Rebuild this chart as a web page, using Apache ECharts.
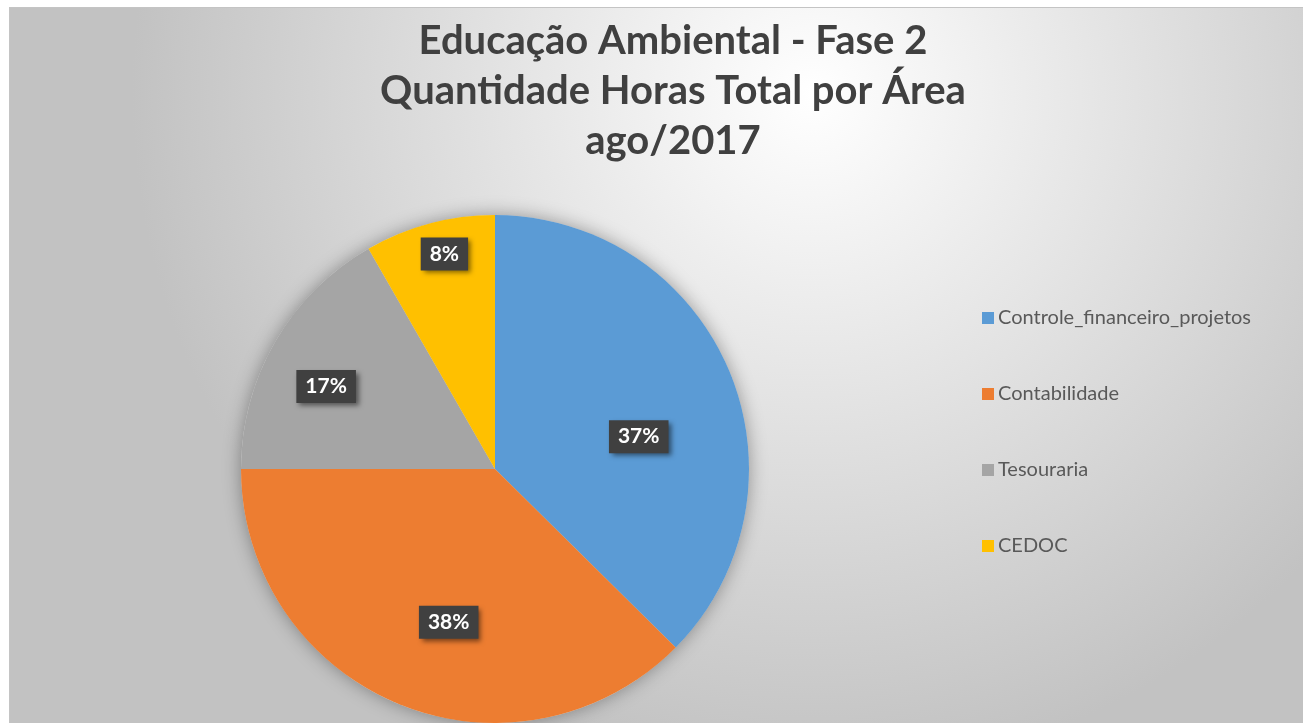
<!DOCTYPE html>
<html lang="pt">
  <head>
    <meta charset="UTF-8" />
    <title>Educação Ambiental - Fase 2</title>
    <script src="https://cdn.jsdelivr.net/npm/echarts@6/dist/echarts.min.js"></script>
    <style>
      html, body { margin: 0; padding: 0; background: #fff; }
      #main {
        position: absolute; left: 9px; top: 7px;
        width: 1294px; height: 716px;
        border-top: 1px solid #c4c4c4; border-left: 1px solid #c4c4c4;
      }
    </style>
  </head>
  <body>
    <div id="main"></div>
    <script>
      // dados (percentual de horas por área)
      var areas = ['Controle_financeiro_projetos', 'Contabilidade', 'Tesouraria', 'CEDOC'];
      var horas = [37.4, 37.6, 16.7, 8.3];
      var cores = ['#5B9BD5', '#ED7D31', '#A5A5A5', '#FFC000'];
      // posição do rótulo: fração do raio e desvio angular (graus, sentido horário)
      var labelRadius = [0.58, 0.63, 0.74, 0.87];
      var labelShift = [10, -5.5, -4, 1.7];

      var cx = 485, cy = 461, raio = 254;

      var chart = echarts.init(document.getElementById('main'));

      var dados = [];
      for (let i = 0; i < areas.length; i++) {
        dados.push({ name: areas[i], value: horas[i], itemStyle: { color: cores[i] } });
      }

      var option = {
        backgroundColor: {
          type: 'radial', x: 0.62, y: 0.12, r: 0.95,
          colorStops: [
            { offset: 0, color: '#ffffff' },
            { offset: 1, color: '#c2c2c2' },
          ],
        },
        title: {
          text: 'Educação Ambiental - Fase 2\nQuantidade Horas Total por Área\nago/2017',
          left: 663, top: 8, padding: 0,
          textAlign: 'center',
          textStyle: {
            fontFamily: 'Lato', fontWeight: 'bold', fontSize: 40,
            lineHeight: 50, color: '#404040',
          },
        },
        legend: {
          orient: 'vertical',
          left: 972, top: 300, padding: 0,
          itemWidth: 12, itemHeight: 12, itemGap: 56,
          icon: 'rect',
          data: areas,
          textStyle: { fontFamily: 'Lato', fontSize: 20, color: '#595959', padding: [0, 0, 0, -1] },
        },
        series: [
          {
            // sombra do círculo
            type: 'pie', silent: true, z: 1,
            center: [cx, cy], radius: raio,
            label: { show: false }, labelLine: { show: false },
            itemStyle: { color: '#d8d8d8', shadowBlur: 18, shadowColor: 'rgba(0,0,0,0.35)' },
            data: [{ name: '', value: 1 }],
          },
          {
            type: 'pie', z: 2,
            center: [cx, cy], radius: raio,
            startAngle: 90, clockwise: true,
            emphasis: { disabled: true },
            label: {
              position: 'inside',
              formatter: function (p) { return Math.round(p.percent) + '%'; },
              fontFamily: 'Lato', fontWeight: 'bold', fontSize: 21, color: '#fff',
              backgroundColor: '#404040',
              padding: [6, 9, 6, 9],
              shadowColor: 'rgba(0,0,0,0.5)', shadowBlur: 5, shadowOffsetX: 3, shadowOffsetY: 3,
            },
            labelLayout: function (p) {
              var lx = p.labelRect.x + p.labelRect.width / 2;
              var ly = p.labelRect.y + p.labelRect.height / 2;
              var ang = Math.atan2(ly - cy, lx - cx) + labelShift[p.dataIndex] * Math.PI / 180;
              var r = labelRadius[p.dataIndex] * raio;
              return { x: cx + r * Math.cos(ang), y: cy + r * Math.sin(ang) };
            },
            data: dados,
          },
        ],
      };

      chart.setOption(option);
    </script>
  </body>
</html>
